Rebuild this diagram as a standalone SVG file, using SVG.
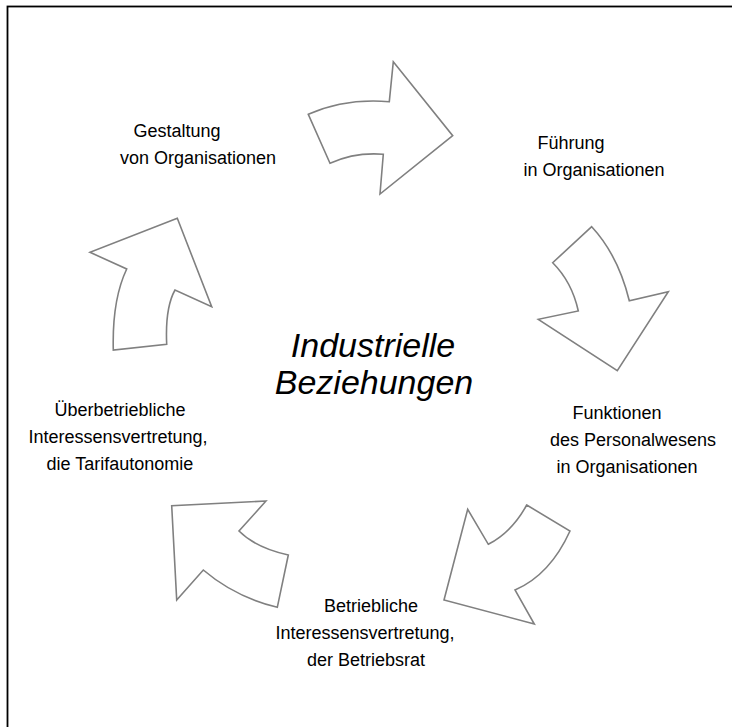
<svg xmlns="http://www.w3.org/2000/svg" width="732" height="727" viewBox="0 0 732 727">
<style>
.arrow{fill:#fff;stroke:#808080;stroke-width:1.6;stroke-linejoin:miter}
.lbl{font-family:"Liberation Sans",Arial,sans-serif;font-size:18px;fill:#000;text-anchor:middle}
.title{font-family:"Liberation Sans",Arial,sans-serif;font-size:34px;font-style:italic;fill:#000;text-anchor:middle}
</style>
<rect x="0" y="0" width="732" height="727" fill="#fff"/>
<rect x="7.5" y="6.5" width="740" height="740" fill="none" stroke="#000" stroke-width="1.8"/>
<g id="connectors">
<path class="arrow" d="M308.3,114.3 Q345,98 389.3,101.7 L393.3,61.7 L452.7,135.7 L380,194 L383.3,154.3 Q355,152 330,163.3 Z"/>
<path class="arrow" d="M591.7,226.7 L552.7,262.7 Q572,282 578.3,311 L538.3,319.3 L617.3,370.7 L668.3,291.7 L629.3,300.7 Q618,255 591.7,226.7 Z"/>
<path class="arrow" d="M526.7,505 L570,531 Q550,575 515,590 L534.3,624 L444,600 L467.7,509.3 L488.3,544.3 Q512,532 526.7,505 Z"/>
<path class="arrow" d="M266,501 L171.7,505.7 L176.7,600 L203.3,570 Q235,597 277.3,607.3 L288.3,555 Q256,548 239,531 Z"/>
<path class="arrow" d="M177.3,218.3 L90,252.3 L126.7,269 Q112,300 113.3,350 L166.7,344.3 Q165,308 175,290 L211.7,306.7 Z"/>
</g>
<g id="center"><text class="title" x="373" y="357">Industrielle</text><text class="title" x="374" y="394">Beziehungen</text></g>
<g id="n1"><text class="lbl" x="177" y="137">Gestaltung</text><text class="lbl" x="198" y="164">von Organisationen</text></g>
<g id="n2"><text class="lbl" x="571" y="149">Führung</text><text class="lbl" x="594" y="176">in Organisationen</text></g>
<g id="n3"><text class="lbl" x="617" y="419">Funktionen</text><text class="lbl" x="633" y="446">des Personalwesens</text><text class="lbl" x="627" y="473">in Organisationen</text></g>
<g id="n4"><text class="lbl" x="371" y="612">Betriebliche</text><text class="lbl" x="365" y="639">Interessensvertretung,</text><text class="lbl" x="366" y="666">der Betriebsrat</text></g>
<g id="n5"><text class="lbl" x="120" y="416">Überbetriebliche</text><text class="lbl" x="118" y="443">Interessensvertretung,</text><text class="lbl" x="120" y="470">die Tarifautonomie</text></g>
</svg>
